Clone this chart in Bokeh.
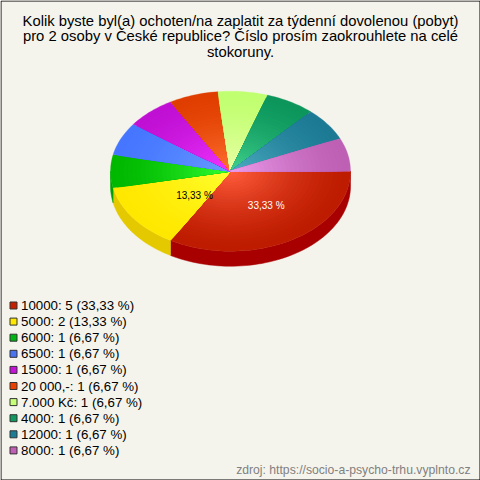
import math
from bokeh.plotting import figure
from bokeh.embed import file_html
from bokeh.resources import INLINE
from bokeh.core.properties import value

title_lines = ["Kolik byste byl(a) ochoten/na zaplatit za týdenní dovolenou (pobyt)",
               "pro 2 osoby v České republice? Číslo prosím zaokrouhlete na celé",
               "stokoruny."]
categories = ["10000", "5000", "6000", "6500", "15000", "20 000,-", "7.000 Kč", "4000", "12000", "8000"]
counts = [5, 2, 1, 1, 1, 1, 1, 1, 1, 1]
percent_labels = ["33,33 %", "13,33 %", "6,67 %", "6,67 %", "6,67 %", "6,67 %", "6,67 %", "6,67 %", "6,67 %", "6,67 %"]
swatch_colors = ["#c42000", "#ffe800", "#00b414", "#4a74f0", "#c414d8", "#e84000", "#c8ff78", "#109860", "#1c7c94", "#c060b4"]
inner_colors = [(255, 92, 60), (255, 255, 48), (50, 255, 50), (104, 156, 255), (240, 52, 255),
                (255, 112, 48), (236, 255, 168), (64, 208, 140), (76, 172, 192), (236, 156, 236)]
outer_colors = [(190, 28, 0), (255, 232, 0), (0, 184, 0), (70, 118, 255), (192, 16, 212),
                (224, 62, 0), (192, 255, 112), (12, 150, 92), (28, 122, 148), (190, 96, 180)]
side_colors = ["#a80000", "#e4c800", "#00a000", "#3a60d0", "#a010b0", "#c03000", "#a0d060", "#0c7848", "#146078", "#985090"]
source = "zdroj: https://socio-a-psycho-trhu.vyplnto.cz"
BG = "#f5f4ec"

CX, CY, RX, RY, DEPTH = 230.0, 170.7, 120.0, 80.0, 15.0
STEPS = 28

p = figure(width=480, height=480, x_range=(0, 480), y_range=(480, 0),
           output_backend="svg", toolbar_location=None, min_border=0,
           background_fill_color=BG, border_fill_color=BG, outline_line_color=None)
p.xaxis.visible = False
p.yaxis.visible = False
p.grid.visible = False


def arc(a0, a1, scale=1.0, dy=0.0):
    n = max(2, int(abs(a1 - a0) / 2) + 2)
    xs, ys = [], []
    for i in range(n):
        a = math.radians(a0 + (a1 - a0) * i / (n - 1))
        xs.append(CX + RX * scale * math.cos(a))
        ys.append(CY + dy + RY * scale * math.sin(a))
    return xs, ys


total = sum(counts)
spans, start = [], 0.0
for c in counts:
    spans.append((start, start + 360.0 * c / total))
    start += 360.0 * c / total

# side wall
for (a0, a1), col in zip(spans, side_colors):
    lo, hi = max(a0, 0), min(a1, 180)
    if hi <= lo:
        continue
    xt, yt = arc(lo, hi)
    xb, yb = arc(hi, lo, dy=DEPTH)
    p.patch(xt + xb, yt + yb, fill_color=col, line_color=col, line_width=0.5)

# top face as concentric shaded sectors
for (a0, a1), ci, co in zip(spans, inner_colors, outer_colors):
    xs, ys, fills = [], [], []
    for s in range(STEPS):
        t = (s / (STEPS - 1)) ** 1.5
        scale = 1.0 - s / STEPS
        x, y = arc(a0, a1, scale)
        xs.append([CX] + x)
        ys.append([CY] + y)
        fills.append("#%02x%02x%02x" % tuple(round(o + (i - o) * t) for i, o in zip(ci, co)))
    p.patches(xs, ys, fill_color=fills, line_color=fills, line_width=0.3)

# slice labels
p.text([265.7, 194.0], [205, 194.5], text=[percent_labels[0], percent_labels[1]],
       text_color=["#ffffff", "#000000"], text_font=value("Liberation Sans"),
       text_font_size="10px", text_align="center", text_baseline="middle")

# title
p.text([240, 240, 240], [20, 35.7, 51.5], text=title_lines, text_color="#000000",
       text_font=value("Liberation Sans"), text_font_size="14.8px",
       text_align="center", text_baseline="middle")

# legend
rows = [305 + 16.1 * i for i in range(len(categories))]
p.quad(left=[9.5] * 10, right=[16.5] * 10, top=[r - 3.5 for r in rows], bottom=[r + 3.5 for r in rows],
       fill_color=swatch_colors, line_color="#333333", line_width=1)
legend_text = [f"{k}: {v} ({q})" for k, v, q in zip(categories, counts, percent_labels)]
p.text([20.5] * 10, rows, text=legend_text, text_color="#000000",
       text_font=value("Liberation Sans"), text_font_size="13.3px",
       text_align="left", text_baseline="middle")

# source
p.text([470], [469], text=[source], text_color="#808080",
       text_font=value("Liberation Sans"), text_font_size="12.2px",
       text_align="right", text_baseline="middle")

# frame
p.quad(left=[0.5], right=[479.5], top=[0.5], bottom=[479.5],
       fill_color=None, line_color="#000000", line_width=1)

open("out.html", "w").write(file_html(p, INLINE))
